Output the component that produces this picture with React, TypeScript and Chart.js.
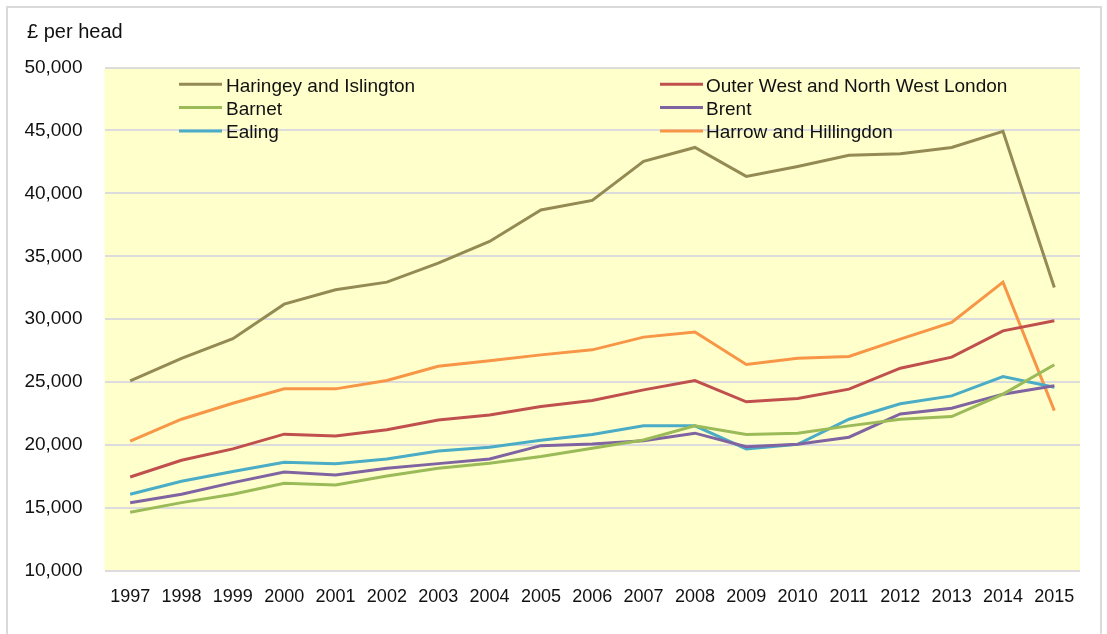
import React, { useEffect, useRef } from "react";
import { Chart, registerables } from "chart.js";

Chart.register(...registerables);

const years = ["1997","1998","1999","2000","2001","2002","2003","2004","2005","2006","2007","2008","2009","2010","2011","2012","2013","2014","2015"];

const haringeyIslington = [25100, 26900, 28450, 31200, 32340, 32950, 34460, 36180, 38680, 39440, 42540, 43650, 41350, 42140, 43020, 43150, 43650, 44930, 32520];
const outerWestNorthWest = [17470, 18800, 19700, 20870, 20730, 21230, 22000, 22400, 23060, 23550, 24390, 25130, 23440, 23700, 24450, 26110, 26990, 29080, 29880];
const barnet = [14670, 15430, 16100, 16970, 16840, 17550, 18160, 18560, 19090, 19750, 20410, 21530, 20840, 20950, 21530, 22060, 22270, 24050, 26380];
const brent = [15430, 16100, 17020, 17870, 17630, 18160, 18530, 18900, 19960, 20080, 20340, 20950, 19880, 20070, 20630, 22480, 22930, 24050, 24710];
const ealing = [16100, 17130, 17900, 18640, 18530, 18900, 19540, 19830, 20390, 20850, 21530, 21530, 19700, 20070, 22060, 23280, 23910, 25450, 24600];
const harrowHillingdon = [20310, 22060, 23330, 24470, 24470, 25130, 26270, 26700, 27170, 27570, 28580, 28980, 26400, 26910, 27040, 28420, 29740, 32950, 22740];

const seriesNames = ["Haringey and Islington", "Outer West and North West London", "Barnet", "Brent", "Ealing", "Harrow and Hillingdon"];
const seriesColors = ["#948A54", "#C0504D", "#9BBB59", "#8064A2", "#4BACC6", "#F79646"];
const seriesValues = [haringeyIslington, outerWestNorthWest, barnet, brent, ealing, harrowHillingdon];

const yMin = 10000;
const yMax = 50000;
const yStep = 5000;
const yTitle = "£ per head";

const FONT = "'Liberation Sans', Arial, sans-serif";
const TEXT = "#111111";

const bgPlugin = {
  id: "plotBg",
  beforeDraw(chart: any) {
    const { ctx, chartArea } = chart;
    ctx.save();
    ctx.fillStyle = "#FFFFCC";
    ctx.fillRect(chartArea.left, chartArea.top, chartArea.right - chartArea.left, chartArea.bottom - chartArea.top);
    ctx.restore();
  },
};

const overlayPlugin = {
  id: "overlay",
  afterDraw(chart: any) {
    const { ctx } = chart;
    ctx.save();
    ctx.fillStyle = TEXT;
    ctx.font = `20px ${FONT}`;
    ctx.textBaseline = "alphabetic";
    ctx.textAlign = "left";
    ctx.fillText(yTitle, 27, 37.5);
    const cols = [{ lx: 179, tx: 226 }, { lx: 660, tx: 706 }];
    const rows = [84.3, 107.5, 131];
    ctx.font = `19px ${FONT}`;
    chart.data.datasets.forEach((ds: any, i: number) => {
      const c = cols[i % 2];
      const r = rows[Math.floor(i / 2)];
      ctx.strokeStyle = ds.borderColor;
      ctx.lineWidth = 3;
      ctx.beginPath();
      ctx.moveTo(c.lx, r);
      ctx.lineTo(c.lx + 43, r);
      ctx.stroke();
      ctx.fillStyle = TEXT;
      ctx.fillText(ds.label, c.tx, r + 7.2);
    });
    ctx.restore();
  },
};

export default function App() {
  const ref = useRef<HTMLCanvasElement>(null);
  useEffect(() => {
    if (!ref.current) return;
    const chart = new Chart(ref.current, {
      type: "line",
      data: {
        labels: years,
        datasets: seriesNames.map((name, i) => ({
          label: name,
          data: seriesValues[i],
          borderColor: seriesColors[i],
          backgroundColor: seriesColors[i],
          borderWidth: 3,
          pointRadius: 0,
          tension: 0,
          fill: false,
        })),
      },
      options: {
        animation: false,
        responsive: false,
        devicePixelRatio: 1,
        layout: { padding: { top: 67.5, left: 0, right: 27, bottom: 0 } },
        plugins: {
          legend: { display: false },
          tooltip: { enabled: false },
          title: { display: false },
        },
        scales: {
          x: {
            offset: true,
            grid: { display: false },
            border: { display: false },
            ticks: {
              color: TEXT,
              font: { family: FONT, size: 18 },
              padding: 7,
              maxRotation: 0,
              autoSkip: false,
            },
            afterFit(scale: any) {
              scale.height = 63;
            },
          },
          y: {
            min: yMin,
            max: yMax,
            grid: { color: "#DCDCDC", lineWidth: 2, drawTicks: false },
            border: { display: false },
            ticks: {
              stepSize: yStep,
              color: TEXT,
              font: { family: FONT, size: 19 },
              padding: 22,
              callback: (v: any) => Number(v).toLocaleString("en-US"),
            },
            afterFit(scale: any) {
              scale.width = 104.5;
            },
          },
        },
      },
      plugins: [bgPlugin, overlayPlugin],
    });
    return () => chart.destroy();
  }, []);

  return (
    <div style={{ position: "fixed", left: 0, top: 0, width: 1107, height: 634, background: "#fff", overflow: "hidden" }}>
      <div style={{ position: "absolute", left: 6, top: 6, width: 1096, height: 660, border: "2px solid #DADADA", boxSizing: "border-box" }} />
      <canvas ref={ref} width={1107} height={634} style={{ position: "absolute", left: 0, top: 0, width: 1107, height: 634 }} />
    </div>
  );
}
